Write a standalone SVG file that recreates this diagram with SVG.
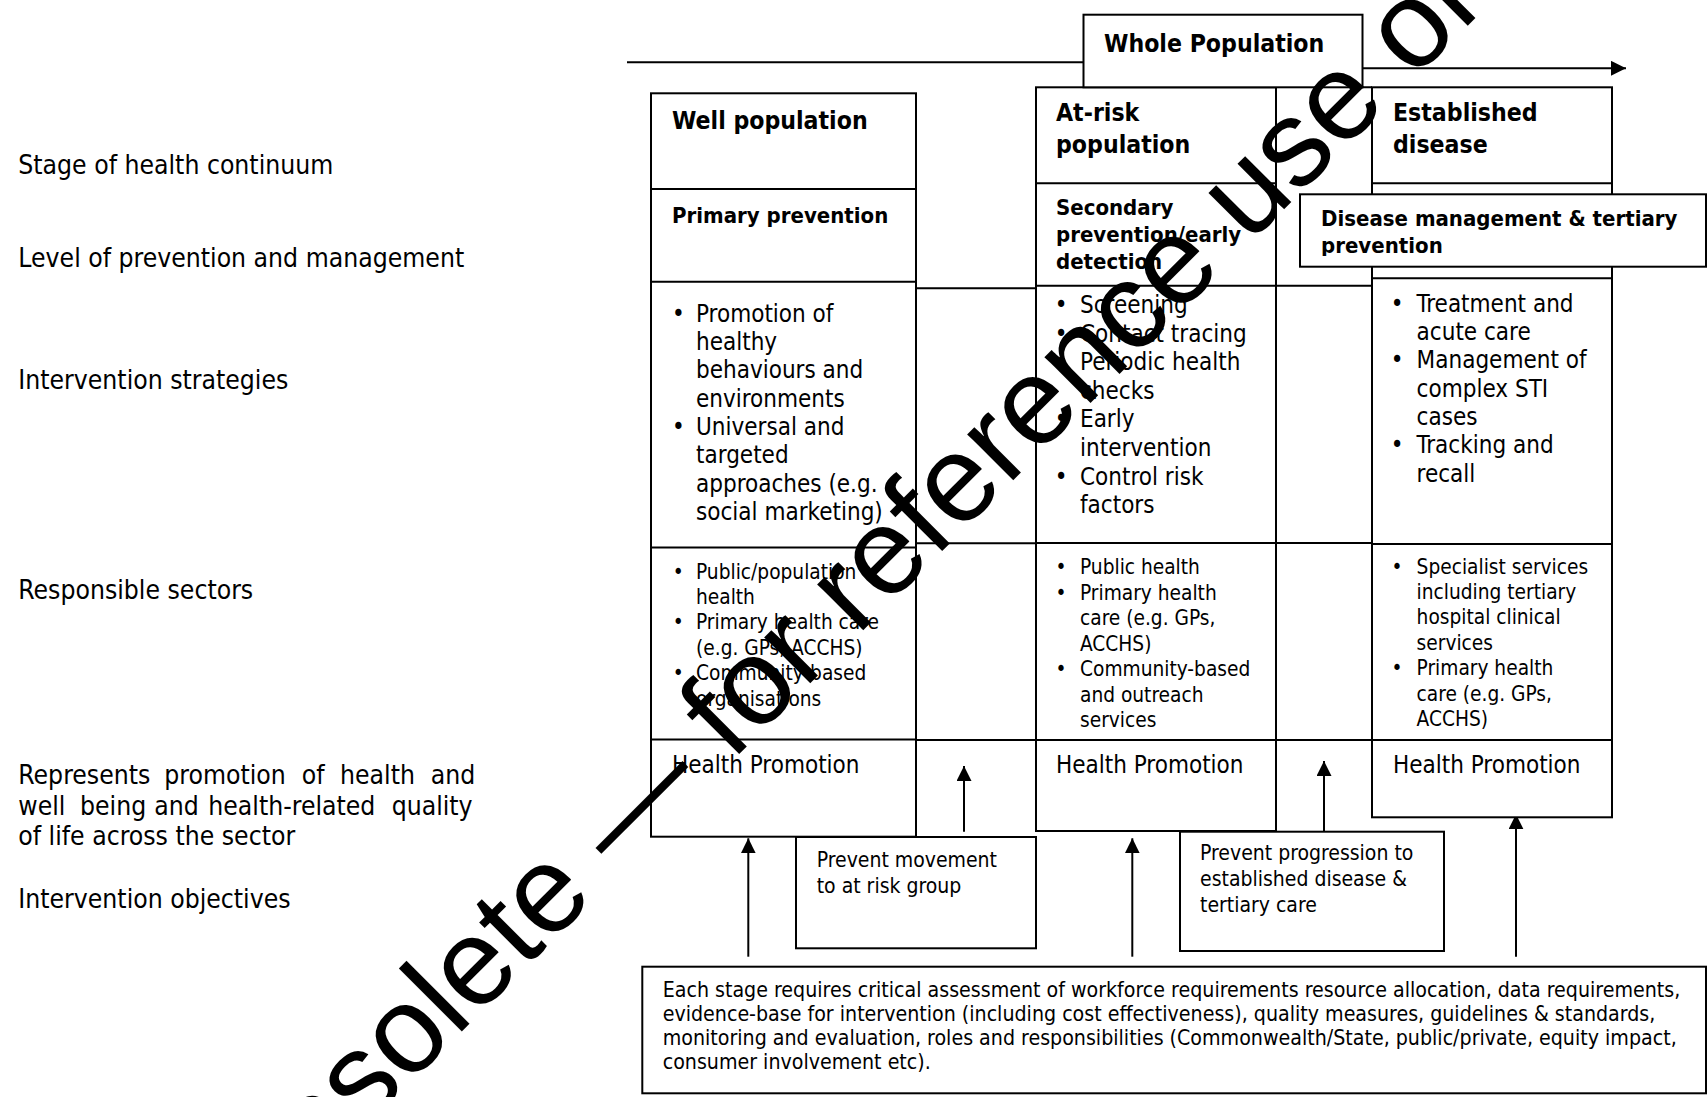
<svg xmlns="http://www.w3.org/2000/svg" width="1708" height="1097" viewBox="0 0 1708 1097">
<style>
.t{font-family:"DejaVu Sans Condensed","DejaVu Sans",sans-serif;font-stretch:condensed;fill:#000}
.lab{font-size:26.3px}
.h1{font-size:24.6px;font-weight:bold}
.h2{font-size:22px;font-weight:bold}
.bt{font-size:24px}
.rs{font-size:20.7px}
.ob{font-size:21px}
.ft{font-size:21.2px}
.box{fill:#fff;stroke:#000;stroke-width:2}
.ln{stroke:#000;stroke-width:2;fill:none}
.bu{text-anchor:middle}
.wm{font-family:"Liberation Sans",Arial,sans-serif;font-size:123px;fill:#000}
</style>
<defs>
<marker id="ah" viewBox="0 0 15 15" refX="15" refY="7.5" markerWidth="15" markerHeight="15" markerUnits="userSpaceOnUse" orient="auto"><path d="M0,0 L15,7.5 L0,15 z" fill="#000"/></marker>
<clipPath id="dmclip"><rect x="1300" y="194" width="406" height="62"/></clipPath>
</defs>
<rect width="1708" height="1097" fill="#fff"/>

<g id="row-labels" class="t lab">
<text x="18.3" y="174">Stage of health continuum</text>
<text x="18.3" y="266.7">Level of prevention and management</text>
<text x="18.3" y="389.3">Intervention strategies</text>
<text x="18.3" y="599.3">Responsible sectors</text>
<text y="784.3"><tspan x="18.3">Represents</tspan><tspan x="164.3">promotion</tspan><tspan x="301.7">of</tspan><tspan x="340">health</tspan><tspan x="430.7">and</tspan></text>
<text y="815"><tspan x="18.3">well</tspan><tspan x="80">being</tspan><tspan x="154.3">and</tspan><tspan x="208.3">health-related</tspan><tspan x="391.7">quality</tspan></text>
<text x="18.3" y="845">of life across the sector</text>
<text x="18.3" y="908.3">Intervention objectives</text>
</g>

<g id="connectors">
<path class="ln" d="M627,62.3 H1083.5"/>
<path class="ln" d="M1362.5,68.3 H1626" marker-end="url(#ah)"/>
<path class="ln" d="M748.3,956.7 V838.3" marker-end="url(#ah)"/>
<path class="ln" d="M964,831.7 V766" marker-end="url(#ah)"/>
<path class="ln" d="M1132.3,956.7 V838.3" marker-end="url(#ah)"/>
<path class="ln" d="M1324,831.7 V761" marker-end="url(#ah)"/>
<path class="ln" d="M1516,956.7 V814.3" marker-end="url(#ah)"/>
</g>

<g id="gap-cells">
<path class="ln" d="M916,288.3 H1036 M916,543.3 H1036 M916,740 H1036"/>
<path class="ln" d="M1276,285.7 H1372 M1276,543 H1372 M1276,740 H1372 M1362,87.3 H1372"/>
</g>

<g id="well-population">
<rect class="box" x="651" y="93.3" width="265" height="743.4"/>
<path class="ln" d="M651,189 H916 M651,281.7 H916 M651,547.5 H916 M651,739.5 H916"/>
<text class="t h1" x="672" y="129">Well population</text>
<text class="t h2" x="672" y="222.7">Primary prevention</text>
<g class="t bt">
<text class="bu" x="678.3" y="321.7">•</text><text x="696" y="321.7">Promotion of</text>
<text x="696" y="350">healthy</text>
<text x="696" y="378.3">behaviours and</text>
<text x="696" y="406.7">environments</text>
<text class="bu" x="678.3" y="435">•</text><text x="696" y="435">Universal and</text>
<text x="696" y="463.3">targeted</text>
<text x="696" y="491.7">approaches (e.g.</text>
<text x="696" y="520">social marketing)</text>
</g>
<g class="t rs">
<text class="bu" x="678.3" y="578.5">•</text><text x="696" y="578.5">Public/population</text>
<text x="696" y="603.9">health</text>
<text class="bu" x="678.3" y="629.3">•</text><text x="696" y="629.3">Primary health care</text>
<text x="696" y="654.7">(e.g. GPs, ACCHS)</text>
<text class="bu" x="678.3" y="680.1">•</text><text x="696" y="680.1">Community-based</text>
<text x="696" y="705.5">organisations</text>
</g>
<text class="t bt" x="672" y="773.3">Health Promotion</text>
</g>

<g id="at-risk-population">
<rect class="box" x="1036" y="87.3" width="240" height="743.7"/>
<path class="ln" d="M1036,183.3 H1276 M1036,285.7 H1276 M1036,543 H1276 M1036,740 H1276"/>
<text class="t h1" x="1056" y="120.7">At-risk</text>
<text class="t h1" x="1056" y="153.3">population</text>
<text class="t h2" x="1056" y="215">Secondary</text>
<text class="t h2" x="1056" y="242">prevention/early</text>
<text class="t h2" x="1056" y="269">detection</text>
<g class="t bt">
<text class="bu" x="1061" y="313">•</text><text x="1080" y="313">Screening</text>
<text class="bu" x="1061" y="341.6">•</text><text x="1080" y="341.6">Contact tracing</text>
<text class="bu" x="1061" y="370.2">•</text><text x="1080" y="370.2">Periodic health</text>
<text x="1080" y="398.8">checks</text>
<text class="bu" x="1061" y="427.4">•</text><text x="1080" y="427.4">Early</text>
<text x="1080" y="456">intervention</text>
<text class="bu" x="1061" y="484.6">•</text><text x="1080" y="484.6">Control risk</text>
<text x="1080" y="513.2">factors</text>
</g>
<g class="t rs">
<text class="bu" x="1061" y="574">•</text><text x="1080" y="574">Public health</text>
<text class="bu" x="1061" y="599.5">•</text><text x="1080" y="599.5">Primary health</text>
<text x="1080" y="625">care (e.g. GPs,</text>
<text x="1080" y="650.5">ACCHS)</text>
<text class="bu" x="1061" y="676">•</text><text x="1080" y="676">Community-based</text>
<text x="1080" y="701.5">and outreach</text>
<text x="1080" y="727">services</text>
</g>
<text class="t bt" x="1056" y="773.3">Health Promotion</text>
</g>

<g id="established-disease">
<rect class="box" x="1372" y="87.3" width="240" height="730"/>
<path class="ln" d="M1372,183.3 H1612 M1372,278.3 H1612 M1372,544 H1612 M1372,740 H1612"/>
<text class="t h1" x="1393" y="120.7">Established</text>
<text class="t h1" x="1393" y="153.3">disease</text>
<g class="t bt">
<text class="bu" x="1397" y="311.7">•</text><text x="1416.6" y="311.7">Treatment and</text>
<text x="1416.6" y="340">acute care</text>
<text class="bu" x="1397" y="368.3">•</text><text x="1416.6" y="368.3">Management of</text>
<text x="1416.6" y="396.7">complex STI</text>
<text x="1416.6" y="425">cases</text>
<text class="bu" x="1397" y="453.3">•</text><text x="1416.6" y="453.3">Tracking and</text>
<text x="1416.6" y="481.7">recall</text>
</g>
<g class="t rs">
<text class="bu" x="1397" y="573.5">•</text><text x="1416.6" y="573.5">Specialist services</text>
<text x="1416.6" y="598.9">including tertiary</text>
<text x="1416.6" y="624.3">hospital clinical</text>
<text x="1416.6" y="649.7">services</text>
<text class="bu" x="1397" y="675.1">•</text><text x="1416.6" y="675.1">Primary health</text>
<text x="1416.6" y="700.5">care (e.g. GPs,</text>
<text x="1416.6" y="725.9">ACCHS)</text>
</g>
<text class="t bt" x="1393" y="773.3">Health Promotion</text>
</g>

<g id="whole-population">
<rect class="box" x="1083.5" y="14.7" width="279" height="72.6"/>
<text class="t h1" x="1104" y="51.7">Whole Population</text>
</g>

<g id="disease-management">
<rect class="box" x="1300" y="194.3" width="406" height="72.4"/>
<g clip-path="url(#dmclip)">
<text class="t h2" x="1321" y="226">Disease management &amp; tertiary</text>
<text class="t h2" x="1321" y="252.7">prevention</text>
</g>
</g>

<g id="prevent-movement">
<rect class="box" x="796" y="837" width="240" height="111.3"/>
<text class="t ob" x="816.7" y="866.7">Prevent movement</text>
<text class="t ob" x="816.7" y="893">to at risk group</text>
</g>

<g id="prevent-progression">
<rect class="box" x="1180" y="831.7" width="264" height="119.3"/>
<text class="t ob" x="1200" y="860">Prevent progression to</text>
<text class="t ob" x="1200" y="886">established disease &amp;</text>
<text class="t ob" x="1200" y="912">tertiary care</text>
</g>

<g id="stage-requirements">
<rect class="box" x="642.3" y="966.7" width="1063.7" height="126.6"/>
<g class="t ft">
<text x="662.7" y="996.7">Each stage requires critical assessment of workforce requirements resource allocation, data requirements,</text>
<text x="662.7" y="1020.5">evidence-base for intervention (including cost effectiveness), quality measures, guidelines &amp; standards,</text>
<text x="662.7" y="1044.5">monitoring and evaluation, roles and responsibilities (Commonwealth/State, public/private, equity impact,</text>
<text x="662.7" y="1068.5">consumer involvement etc).</text>
</g>
</g>

<g id="watermark">
<text class="wm" x="-705" y="1056" transform="rotate(-45)">Obsolete — for reference use only</text>
</g>
</svg>
